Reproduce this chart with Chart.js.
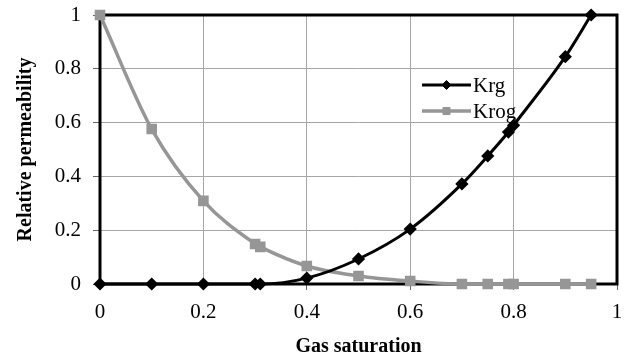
<!DOCTYPE html>
<html><head><meta charset="utf-8">
<script src="https://cdn.jsdelivr.net/npm/chart.js@4/dist/chart.umd.min.js"></script>
<style>html,body{margin:0;padding:0;background:#fff}#wrap{width:627px;height:359px}</style>
</head><body><div id="wrap"><canvas id="c" width="627" height="359"></canvas></div>
<script>
const gasSaturation = [0, 0.1, 0.2, 0.3, 0.31, 0.4, 0.5, 0.6, 0.7, 0.75, 0.79, 0.8, 0.9, 0.95];
const krg  = [0, 0, 0, 0, 0, 0.022, 0.093, 0.204, 0.372, 0.476, 0.565, 0.59, 0.845, 1.0];
const krog = [1, 0.576, 0.309, 0.149, 0.138, 0.067, 0.03, 0.011, 0, 0, 0, 0, 0, 0];
const seriesNames = ['Krg', 'Krog'];
const xTicks = [0, 0.2, 0.4, 0.6, 0.8, 1];
const yTicks = [0, 0.2, 0.4, 0.6, 0.8, 1];

const GREY = '#969696';
const serif = '"Liberation Serif", "Times New Roman", serif';

const toPts = arr => gasSaturation.map((x, i) => ({x: x, y: arr[i]}));

const framePlugin = {
  id: 'frame',
  beforeDatasetsDraw(chart) {
    const a = chart.chartArea, ctx = chart.ctx;
    ctx.save();
    ctx.strokeStyle = '#000';
    ctx.lineWidth = 3;
    ctx.strokeRect(a.left, a.top, a.right - a.left, a.bottom - a.top);
    ctx.restore();
  }
};

const legendPlugin = {
  id: 'innerLegend',
  afterDatasetsDraw(chart) {
    const ctx = chart.ctx;
    const x0 = 422, x1 = 471, rows = [85, 111];
    chart.data.datasets.forEach((ds, i) => {
      const y = rows[i];
      ctx.save();
      ctx.strokeStyle = ds.borderColor;
      ctx.lineWidth = ds.borderWidth;
      ctx.beginPath(); ctx.moveTo(x0, y); ctx.lineTo(x1, y); ctx.stroke();
      ctx.fillStyle = ds.pointBackgroundColor;
      ctx.strokeStyle = ds.pointBorderColor;
      ctx.lineWidth = 1;
      Chart.helpers.drawPoint(ctx, {pointStyle: ds.pointStyle, radius: ds.pointRadius, borderWidth: 1, rotation: 0}, (x0 + x1) / 2, y);
      ctx.fillStyle = '#000';
      ctx.font = '21px ' + serif;
      ctx.textBaseline = 'middle';
      ctx.textAlign = 'left';
      ctx.fillText(ds.label, x1 + 2, y + 1);
      ctx.restore();
    });
  }
};

new Chart(document.getElementById('c'), {
  type: 'line',
  data: {
    datasets: [
      {label: seriesNames[0], data: toPts(krg), borderColor: '#000', backgroundColor: '#000',
       borderWidth: 3, pointStyle: 'rectRot', pointRadius: 4.5, pointBorderColor: '#000', pointBackgroundColor: '#000',
       cubicInterpolationMode: 'monotone', clip: false},
      {label: seriesNames[1], data: toPts(krog), borderColor: GREY, backgroundColor: GREY,
       borderWidth: 3.5, pointStyle: 'rect', pointRadius: 5, pointBorderColor: GREY, pointBackgroundColor: GREY,
       cubicInterpolationMode: 'monotone', clip: false}
    ]
  },
  options: {
    responsive: false,
    animation: false,
    layout: {padding: {left: 0, right: 10, top: 15, bottom: 0}},
    plugins: {legend: {display: false}, tooltip: {enabled: false}},
    scales: {
      x: {
        type: 'linear', min: 0, max: 1,
        afterBuildTicks: s => { s.ticks = xTicks.map(v => ({value: v})); },
        afterFit: s => { s.height = 75; s.paddingLeft = 0; s.paddingRight = 0; },
        ticks: {color: '#000', font: {family: serif, size: 21}, padding: 10, maxRotation: 0,
                callback: v => String(v)},
        grid: {color: '#a6a6a6', lineWidth: 1, tickLength: 6, tickColor: '#666'},
        border: {display: false},
        title: {display: true, text: 'Gas saturation', color: '#000',
                font: {family: serif, size: 20, weight: 'bold'}, padding: {top: 4, bottom: 0}}
      },
      y: {
        min: 0, max: 1,
        afterBuildTicks: s => { s.ticks = yTicks.map(v => ({value: v})); },
        afterFit: s => { s.width = 100; s.paddingTop = 0; s.paddingBottom = 0; },
        ticks: {color: '#000', font: {family: serif, size: 21}, padding: 12,
                callback: v => String(v)},
        grid: {color: '#a6a6a6', lineWidth: 1, tickLength: 7, tickColor: '#666'},
        border: {display: false},
        title: {display: true, text: 'Relative permeability', color: '#000',
                font: {family: serif, size: 20, weight: 'bold'}, padding: {top: 14, bottom: 4}}
      }
    }
  },
  plugins: [framePlugin, legendPlugin]
});
</script>
</body></html>
